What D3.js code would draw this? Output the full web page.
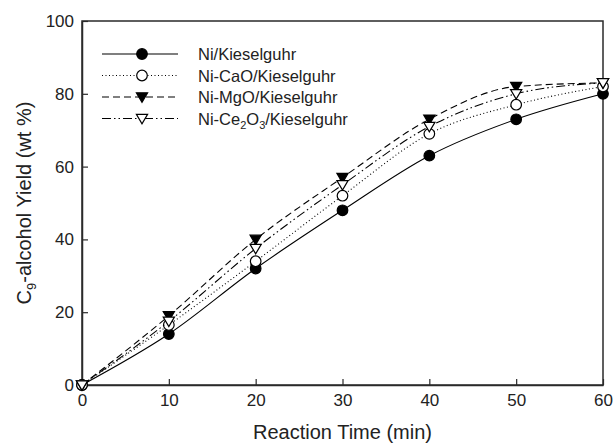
<!DOCTYPE html>
<html>
<head>
<meta charset="utf-8">
<script src="https://cdn.jsdelivr.net/npm/d3@7"></script>
<style>
  html, body { margin: 0; padding: 0; background: #fff; }
  svg { display: block; font-family: "Liberation Sans", Arial, sans-serif; }
</style>
</head>
<body>
<svg id="chart" width="614" height="443"></svg>
<script>
const times = [0, 10, 20, 30, 40, 50, 60];
const niKieselguhr = [0, 14, 32, 48, 63, 73, 80];
const niCaO = [0, 16.5, 34, 52, 69, 77, 82];
const niMgO = [0, 19, 40, 57, 73, 82, 83];
const niCe2O3 = [0, 17.5, 37.5, 55, 71, 80, 83];
const seriesNames = ["Ni/Kieselguhr", "Ni-CaO/Kieselguhr", "Ni-MgO/Kieselguhr", "Ni-Ce2O3/Kieselguhr"];
const xTicks = [0, 10, 20, 30, 40, 50, 60];
const yTicks = [0, 20, 40, 60, 80, 100];

(function () {
const svg = d3.select("#chart");
const pL = 82, pR = 603, pT = 21, pB = 385;
const x = d3.scaleLinear().domain([0, 60]).range([pL, pR]);
const y = d3.scaleLinear().domain([0, 100]).range([pB, pT]);

const styles = [
  { dash: null, marker: "circle", fill: "#000" },
  { dash: "1,2.5", marker: "circle", fill: "#fff" },
  { dash: "7,4", marker: "tri", fill: "#000" },
  { dash: "9,3,1.5,3,1.5,3", marker: "tri", fill: "#fff" }
];
const values = [niKieselguhr, niCaO, niMgO, niCe2O3];

// frame
svg.append("rect").attr("x", pL).attr("y", pT)
  .attr("width", pR - pL).attr("height", pB - pT)
  .attr("fill", "none").attr("stroke", "#2a2a2a").attr("stroke-width", 1.5);

// axes
const xAxis = d3.axisBottom(x).tickValues(xTicks).tickSizeInner(-6).tickSizeOuter(0).tickPadding(9);
const gx = svg.append("g").attr("transform", `translate(0,${pB})`).call(xAxis);
const yAxis = d3.axisLeft(y).tickValues(yTicks).tickSizeInner(-6).tickSizeOuter(0).tickPadding(8);
const gy = svg.append("g").attr("transform", `translate(${pL},0)`).call(yAxis);
[gx, gy].forEach(g => {
  g.select(".domain").attr("stroke", "#2a2a2a").attr("stroke-width", 1.5);
  g.selectAll(".tick line").attr("stroke", "#2a2a2a").attr("stroke-width", 1.2);
  g.selectAll(".tick text").attr("font-size", 17).attr("fill", "#222")
    .attr("font-family", "'Liberation Sans', Arial, sans-serif");
});
gx.selectAll(".tick text").attr("dy", "0.71em");

// axis titles
svg.append("text").attr("x", (pL + pR) / 2).attr("y", 439)
  .attr("text-anchor", "middle").attr("font-size", 20).attr("fill", "#222")
  .text("Reaction Time (min)");
const yt = svg.append("text").attr("transform", `translate(31,${(pT + pB) / 2}) rotate(-90)`)
  .attr("text-anchor", "middle").attr("font-size", 20).attr("fill", "#222");
yt.append("tspan").text("C");
yt.append("tspan").attr("font-size", 13).attr("dy", 5).text("9");
yt.append("tspan").attr("dy", -5).text("-alcohol Yield (wt %)");

const line = d3.line().x((d, i) => x(times[i])).y(d => y(d)).curve(d3.curveMonotoneX);

function drawMarker(g, cx, cy, st) {
  if (st.marker === "circle") {
    g.append("circle").attr("cx", cx).attr("cy", cy).attr("r", 5.3)
      .attr("fill", st.fill).attr("stroke", "#000").attr("stroke-width", 1.2);
  } else {
    const s = 5.6;
    g.append("path")
      .attr("d", `M${cx - s},${cy - s * 0.75} L${cx + s},${cy - s * 0.75} L${cx},${cy + s * 0.95} Z`)
      .attr("fill", st.fill).attr("stroke", "#000").attr("stroke-width", 1.2);
  }
}

values.forEach((vals, k) => {
  const st = styles[k];
  const g = svg.append("g");
  g.append("path").datum(vals).attr("d", line).attr("fill", "none")
    .attr("stroke", "#000").attr("stroke-width", 1.1)
    .attr("stroke-dasharray", st.dash);
  vals.forEach((v, i) => drawMarker(g, x(times[i]), y(v), st));
});

// legend
const legY = [54, 75.5, 97, 118.5];
const lg = svg.append("g");
seriesNames.forEach((name, k) => {
  const st = styles[k];
  const yy = legY[k];
  lg.append("line").attr("x1", 102).attr("x2", 178).attr("y1", yy).attr("y2", yy)
    .attr("stroke", "#000").attr("stroke-width", 1.1).attr("stroke-dasharray", st.dash);
  drawMarker(lg, 142, yy, st);
  const t = lg.append("text").attr("x", 198).attr("y", yy + 6).attr("font-size", 16.5).attr("fill", "#222");
  if (name === "Ni-Ce2O3/Kieselguhr") {
    t.append("tspan").text("Ni-Ce");
    t.append("tspan").attr("font-size", 11).attr("dy", 4).text("2");
    t.append("tspan").attr("dy", -4).text("O");
    t.append("tspan").attr("font-size", 11).attr("dy", 4).text("3");
    t.append("tspan").attr("dy", -4).text("/Kieselguhr");
  } else {
    t.text(name);
  }
});
})();
</script>
</body>
</html>
